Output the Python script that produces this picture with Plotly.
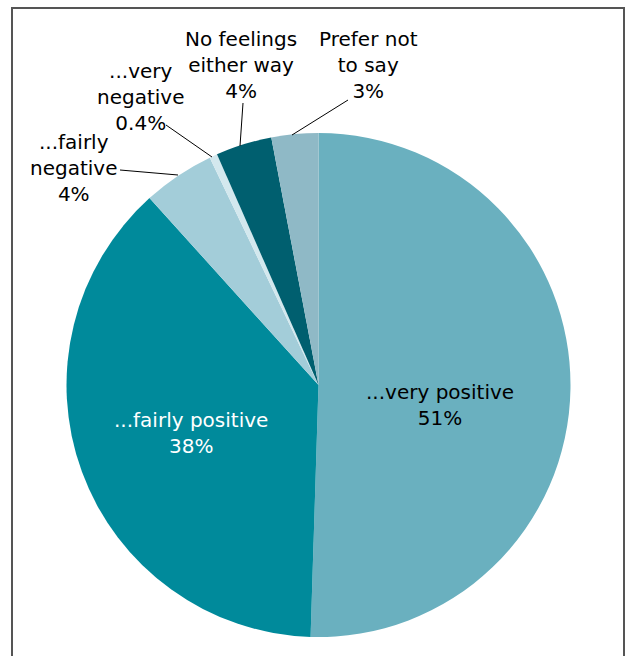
import plotly.graph_objects as go

# Daten
labels = ["...very positive", "...fairly positive", "...fairly negative",
          "...very negative", "No feelings either way", "Prefer not to say"]
values = [50.5, 37.8, 4.6, 0.5, 3.6, 3.0]
pct_text = ["51%", "38%", "4%", "0.4%", "4%", "3%"]
colors = ["#6AB0BF", "#008A9B", "#A3CDD9", "#D3E8EE", "#005F6F", "#8FB9C6"]

# Body-Rand wird per Skript entfernt -> Grafik fuellt das ganze Fenster
W, H = 627, 656
FONT = "DejaVu Sans"


def px_x(x):
    return x / W


def px_y(y):
    return 1 - y / H


fig = go.Figure(go.Pie(
    labels=labels,
    values=values,
    textinfo="none",
    marker=dict(colors=colors, line=dict(width=0)),
    sort=False,
    direction="clockwise",
    rotation=0,
    hoverinfo="label+percent",
    domain=dict(x=[px_x(66), px_x(571)], y=[px_y(637), px_y(133)]),
    showlegend=False,
))

# Beschriftungen: Text, Mitte x/y, Farbe, Linie (x0, y0, x1, y1) oder None
beschriftung = [
    (labels[0] + "<br>" + pct_text[0], 440, 405, "black", None),
    (labels[1] + "<br>" + pct_text[1], 191, 433, "white", None),
    ("...fairly<br>negative<br>" + pct_text[2], 73, 168, "black", (120, 170, 178, 175)),
    ("...very<br>negative<br>" + pct_text[3], 140, 97, "black", (166, 125, 212, 157)),
    ("No feelings<br>either way<br>" + pct_text[4], 241, 65, "black", (243, 103, 240, 146)),
    ("Prefer not<br>to say<br>" + pct_text[5], 368, 65, "black", (348, 100, 292, 135)),
]

shapes = []
annotations = []
for txt, cx, cy, farbe, ln in beschriftung:
    annotations.append(dict(text=txt, x=px_x(cx), y=px_y(cy), xref="paper", yref="paper",
                            showarrow=False, xanchor="center", yanchor="middle",
                            font=dict(family=FONT, size=20, color=farbe)))
    if ln is not None:
        shapes.append(dict(type="line", xref="paper", yref="paper",
                           x0=px_x(ln[0]), y0=px_y(ln[1]), x1=px_x(ln[2]), y1=px_y(ln[3]),
                           line=dict(color="black", width=1)))

# Rahmen um die Grafik (unten offen)
shapes.append(dict(type="rect", xref="paper", yref="paper",
                   x0=px_x(12), x1=px_x(624), y0=-0.05, y1=px_y(8),
                   line=dict(color="#555555", width=2)))

fig.update_layout(
    width=W, height=H,
    margin=dict(l=0, r=0, t=0, b=0),
    paper_bgcolor="white",
    plot_bgcolor="white",
    shapes=shapes,
    annotations=annotations,
    font=dict(family=FONT),
)

fig.write_html("out.html", config={"displayModeBar": False},
               post_script="document.body.style.margin='0';document.body.style.overflow='hidden';")
